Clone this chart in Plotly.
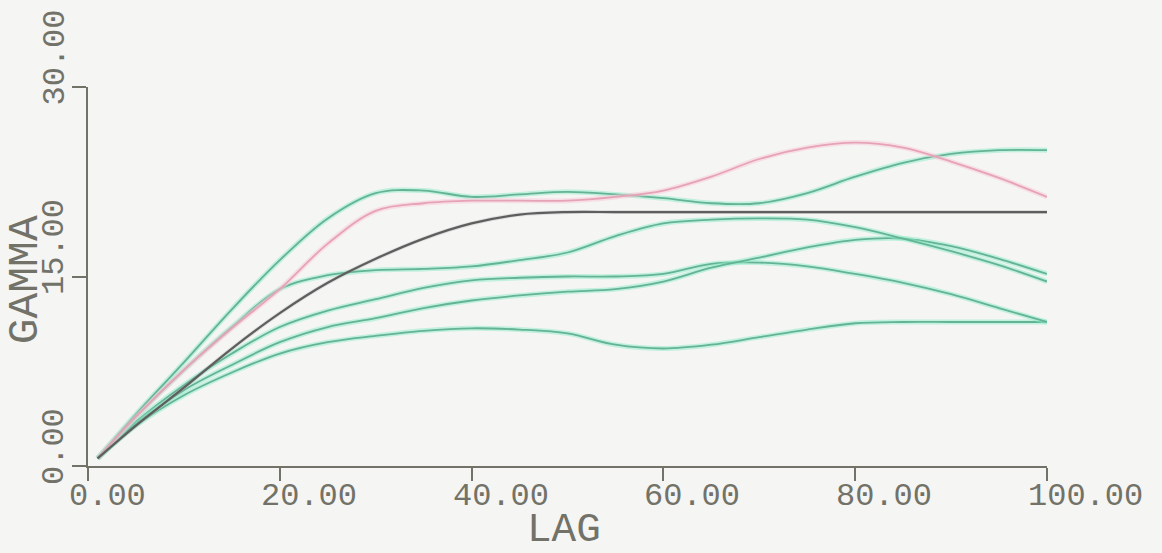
import plotly.graph_objects as go

# Lag distances (common to every curve)
lag = [1, 5, 10, 15, 20, 25, 30, 35, 40, 45, 50, 55, 60, 65, 70, 75, 80, 85, 90, 95, 100]

# Fitted model variogram
model_gamma = [0.6, 3.2, 6.2, 9.3, 12.1, 14.5, 16.4, 18.0, 19.2, 19.9, 20.1, 20.1, 20.1,
               20.1, 20.1, 20.1, 20.1, 20.1, 20.1, 20.1, 20.1]

# Highlighted realisation
pink_gamma = [0.6, 3.9, 7.6, 10.9, 14.0, 17.6, 20.2, 20.8, 21.0, 21.0, 21.0, 21.3, 21.8,
              22.9, 24.3, 25.2, 25.6, 25.2, 24.1, 22.8, 21.3]

# Other realisations
green_1 = [0.6, 4.1, 8.2, 12.4, 16.3, 19.6, 21.6, 21.8, 21.3, 21.5, 21.7, 21.5, 21.2,
           20.8, 20.8, 21.6, 22.9, 24.0, 24.7, 25.0, 25.0]
green_2 = [0.6, 3.9, 7.6, 11.0, 14.0, 15.1, 15.5, 15.6, 15.8, 16.3, 16.9, 18.2, 19.2,
           19.5, 19.6, 19.5, 18.9, 18.0, 17.0, 15.9, 14.6]
green_3 = [0.6, 3.3, 6.0, 8.0, 9.8, 11.0, 11.7, 12.5, 13.1, 13.5, 13.8, 14.0, 14.6,
           15.7, 16.5, 17.3, 17.9, 18.0, 17.4, 16.4, 15.2]
green_4 = [0.6, 3.5, 6.4, 8.9, 11.0, 12.3, 13.2, 14.1, 14.7, 14.9, 15.0, 15.0, 15.2,
           16.0, 16.1, 15.8, 15.2, 14.5, 13.6, 12.5, 11.4]
green_5 = [0.6, 3.2, 5.6, 7.4, 8.9, 9.8, 10.3, 10.7, 10.9, 10.8, 10.5, 9.6, 9.3,
           9.6, 10.2, 10.8, 11.3, 11.4, 11.4, 11.4, 11.4]

x_ticks = [0, 20, 40, 60, 80, 100]
x_tick_text = ["0.00", "20.00", "40.00", "60.00", "80.00", "100.00"]
y_ticks = [0, 15, 30]
y_tick_text = ["0.00", "15.00", "30.00"]

INK = "#727268"
FONT = "Liberation Mono"

fig = go.Figure()


def add_curve(y, core, halo, core_w=1.8, halo_w=5):
    fig.add_trace(go.Scatter(x=lag, y=y, mode="lines", line=dict(color=halo, width=halo_w, shape="spline"),
                             hoverinfo="skip", showlegend=False))
    fig.add_trace(go.Scatter(x=lag, y=y, mode="lines", line=dict(color=core, width=core_w, shape="spline"),
                             showlegend=False))


for g in [green_5, green_4, green_3, green_2, green_1]:
    add_curve(g, "#63b394", "rgba(140,235,200,0.5)")
add_curve(pink_gamma, "#e6a3b6", "rgba(250,200,215,0.5)")
add_curve(model_gamma, "#5e5e5e", "rgba(170,170,170,0.3)", core_w=2.2, halo_w=4)

annotations = []
for v, t in zip(x_ticks, x_tick_text):
    annotations.append(dict(x=v, xref="x", y=0, yref="paper", text=t, showarrow=False,
                            xanchor="left", yanchor="top", xshift=-21, yshift=-10,
                            font=dict(family=FONT, size=32, color=INK)))
for v, t in zip(y_ticks, y_tick_text):
    annotations.append(dict(x=0, xref="paper", y=v, yref="y", text=t, showarrow=False,
                            textangle=-90, xanchor="right", yanchor="bottom", xshift=-13, yshift=-21,
                            font=dict(family=FONT, size=32, color=INK)))
annotations.append(dict(x=49.6, xref="x", y=0, yref="paper", text="LAG", showarrow=False,
                        xanchor="center", yanchor="top", yshift=-39,
                        font=dict(family=FONT, size=41, color=INK)))
annotations.append(dict(x=0, xref="paper", y=14.7, yref="y", text="GAMMA", showarrow=False,
                        textangle=-90, xanchor="center", yanchor="middle", xshift=-63,
                        font=dict(family=FONT, size=43, color=INK)))

fig.update_layout(
    width=1162, height=553,
    margin=dict(l=88, r=115, t=87, b=87),
    paper_bgcolor="#f5f5f4", plot_bgcolor="#f5f5f4",
    xaxis=dict(range=[0, 100], tickvals=x_ticks, showticklabels=False, ticks="outside",
               ticklen=13, tickwidth=2, tickcolor=INK, showline=True, linecolor=INK, linewidth=2,
               showgrid=False, zeroline=False),
    yaxis=dict(range=[0, 30], tickvals=y_ticks, showticklabels=False, ticks="outside",
               ticklen=14, tickwidth=2, tickcolor=INK, showline=True, linecolor=INK, linewidth=2,
               showgrid=False, zeroline=False),
    annotations=annotations,
)

fig.write_html("out.html")
